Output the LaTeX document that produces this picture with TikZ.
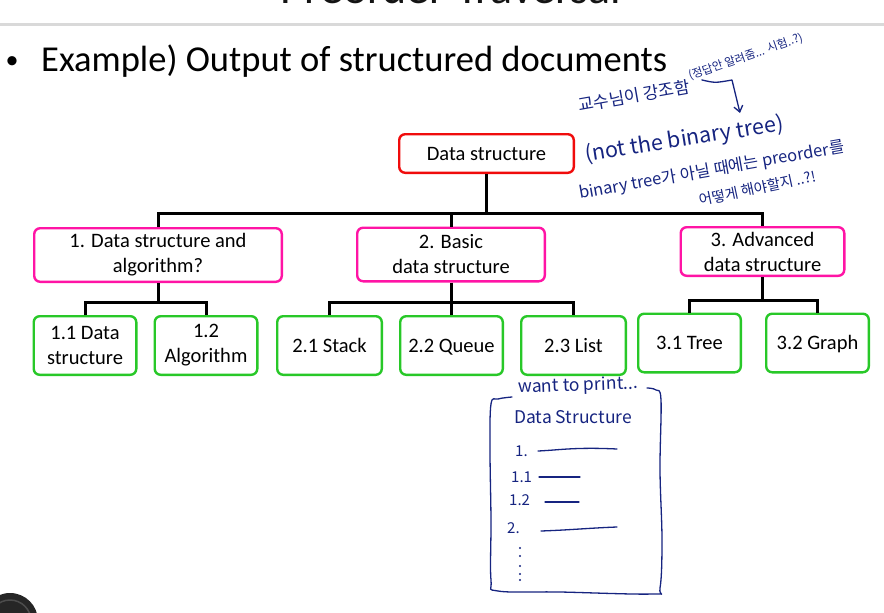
\documentclass[tikz,border=0pt]{standalone}
\usepackage{fontspec}
\setmainfont{Carlito}
\newfontfamily\hangul{Noto Sans CJK KR}
\usepackage{xcolor}
\usepackage{tikz}
\usetikzlibrary{arrows.meta}
\definecolor{vermelho}{RGB}{240,12,12}
\definecolor{rosa}{RGB}{255,20,165}
\definecolor{verde}{RGB}{40,200,40}
\definecolor{caneta}{RGB}{22,36,128}
\definecolor{cinza}{RGB}{217,217,217}
\tikzset{
  caixa/.style={draw, rounded corners=6pt, line width=2.4pt, fill=white, align=center, inner sep=1pt, minimum width=#1, minimum height=58.6pt, font=\fontsize{20.5}{25}\selectfont},
  caixa/.default=102.6pt,
  folha/.style={caixa=#1, draw=verde},
  folha/.default=102.6pt,
  uma/.style={text height=16pt, text depth=2.8pt},
  ramo/.style={line width=3pt},
  mao/.style={text=caneta, inner sep=0pt, font=\hangul\fontsize{#1}{#1}\selectfont},
  mao/.default=15,
  traco/.style={draw=caneta, line width=1.3pt, line cap=round, line join=round},
}

\begin{document}
\begin{tikzpicture}[x=1pt, y=-1pt]
  \useasboundingbox (0,0) rectangle (884,613);
  \clip (0,0) rectangle (884,613);
  % titulo cortado e cabecalho
  \node[anchor=base, font=\fontsize{46}{50}\selectfont, text=black!92] (titulo) at (451,4) {Preorder Traversal};
  \fill[cinza] (0,22.5) rectangle (884,25.5);
  \node[font=\fontsize{26}{30}\selectfont, anchor=base] (bala) at (12,68) {\textbullet};
  \node[font=\fontsize{36.5}{40}\selectfont, anchor=base west, inner sep=0pt] (frase) at (41,71) {Example) Output of structured documents};
  % arvore
  \node[caixa=174.6pt, draw=vermelho, minimum height=38.6pt, uma] (ds) at (486.5,153.5) {Data structure};
  \node[caixa=247.6pt, draw=rosa, minimum height=53.6pt] (n1) at (158,255) {1. Data structure and\\algorithm?};
  \node[caixa=187.6pt, draw=rosa, minimum height=53.6pt] (n2) at (451,254.5) {2. Basic\\data structure};
  \node[caixa=163.6pt, draw=rosa, minimum height=48.6pt] (n3) at (762.5,251.5) {3. Advanced\\data structure};
  \node[folha] (n11) at (85,345.5) {1.1 Data\\structure};
  \node[folha] (n12) at (206,345.5) {1.2\\Algorithm};
  \node[folha=104.6pt, uma] (n21) at (329.5,345.5) {2.1 Stack};
  \node[folha, uma] (n22) at (451.5,345.5) {2.2 Queue};
  \node[folha=104.6pt, uma] (n23) at (573.5,345.5) {2.3 List};
  \node[folha, uma] (n31) at (689.5,343) {3.1 Tree};
  \node[folha, uma] (n32) at (817.5,343) {3.2 Graph};
  \coordinate (j) at (486.5,213);
  \coordinate (j1) at (158,302);
  \coordinate (j2) at (451,302);
  \coordinate (j3) at (762.5,300);
  \draw[ramo] (ds.south) -- (j);
  \draw[ramo] (n1.north) |- (j) -| (n3.north);
  \draw[ramo] (n2.north) |- (j);
  \draw[ramo] (n1.south) -- (j1);
  \draw[ramo] (n11.north) |- (j1) -| (n12.north);
  \draw[ramo] (n2.south) -- (j2);
  \draw[ramo] (n21.north) |- (j2) -| (n23.north);
  \draw[ramo] (n22.north) |- (j2);
  \draw[ramo] (n3.south) -- (j3);
  \draw[ramo] (n31.north) |- (j3) -| (n32.north);
  % anotacoes a mao
  \node[mao=17, anchor=base west, rotate=10] (prof) at (579,112) {교수님이 강조함};
  \node[mao=11.5, anchor=base west, rotate=19] (resp) at (690,80) {(정답안 알려줌... 시험..?)};
  \node[mao=21.5, anchor=base west, rotate=9] (nbt) at (586,162) {(not the binary tree)};
  \node[mao=16.5, anchor=base west, rotate=10] (pre) at (580,199) {binary tree가 아닐 때에는 preorder를};
  \node[mao=14.5, anchor=base west, rotate=12] (como) at (700,206) {어떻게 해야할지 ..?!};
  \coordinate (dobra) at (732,80);
  \coordinate (ponta) at (740,113);
  \draw[traco, -{Straight Barb[length=6pt, width=9pt]}] (prof.east) ++(12,-6) .. controls (715,83) .. (dobra) -- (ponta);
  % lista escrita a mao
  \node[mao=17.5, anchor=base west, rotate=2] (quer) at (518,393) {want to print...};
  \draw[traco] plot[smooth, tension=0.6] coordinates {(647,388) (656,390) (661,400) (660,470) (662,540) (660,588) (652,594) (560,592) (498,591) (491,580) (491,520) (490,450) (491,404) (498,399) (512,397)};
  \node[mao=17.5, anchor=base west] (tit) at (514,423) {Data Structure};
  \node[mao=15, anchor=base west] (l1) at (515,456) {1.};
  \node[mao=15, anchor=base west] (l11) at (511,482) {1.1};
  \node[mao=15, anchor=base west] (l12) at (509,505) {1.2};
  \node[mao=15, anchor=base west] (l2) at (507,533) {2.};
  \draw[traco] (538,451) .. controls (560,450) and (575,447) .. (617,449);
  \draw[traco] (539,477) -- (580,477);
  \draw[traco] (545,502) -- (579,502);
  \draw[traco] (541,531) .. controls (570,530) and (590,528) .. (617,527);
  \foreach \yy in {548,556,566,574,580} \fill[caneta] (520,\yy) circle (1.1pt);
  % botao do video
  \fill[black!85] (10,621) circle (28);
  \draw[black!70, line width=1.5pt] (10,621) circle (21);
\end{tikzpicture}
\end{document}
